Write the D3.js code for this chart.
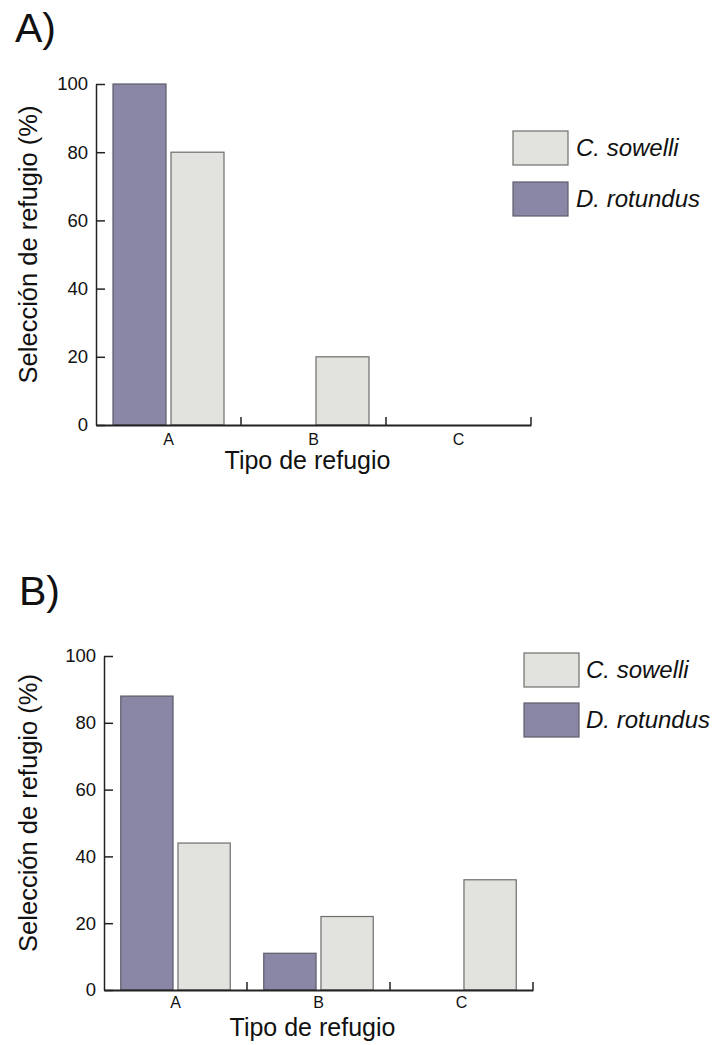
<!DOCTYPE html>
<html><head><meta charset="utf-8">
<script src="https://cdn.jsdelivr.net/npm/d3@7"></script>
<style>
body{margin:0;background:#fff;}
svg{display:block;font-family:"Liberation Sans",Arial,sans-serif;}
</style></head>
<body>
<svg id="chart" width="714" height="1045"></svg>
<script>
const categories = ["A", "B", "C"];
const seriesNames = ["D. rotundus", "C. sowelli"];
const legendOrder = ["C. sowelli", "D. rotundus"];
const yTicks = [0, 20, 40, 60, 80, 100];
const panelLabels = ["A)", "B)"];
const rotundusA = [100, 0, 0];
const sowelliA = [80, 20, 0];
const rotundusB = [88, 11, 0];
const sowelliB = [44, 22, 33];
const xTitle = "Tipo de refugio";
const yTitle = "Selección de refugio (%)";

const fills = {"D. rotundus": "#8987a5", "C. sowelli": "#e2e2de"};
const strokes = {"D. rotundus": "#5c5c6a", "C. sowelli": "#6e6e6e"};

const svg = d3.select("#chart");

const panels = [
  {label: panelLabels[0], lx: 15, ly: 42, data: {"D. rotundus": rotundusA, "C. sowelli": sowelliA},
   x0: 96, x1: 531, yTop: 84, yBot: 425, xlabBase: 445, xtitleBase: 469, ytitleX: 37,
   legX: 513, legTextX: 576, legY: [131, 182]},
  {label: panelLabels[1], lx: 19, ly: 605, data: {"D. rotundus": rotundusB, "C. sowelli": sowelliB},
   x0: 104, x1: 533, yTop: 656, yBot: 990, xlabBase: 1008, xtitleBase: 1036, ytitleX: 37,
   legX: 524, legTextX: 586, legY: [653, 703]}
];

panels.forEach(p => {
  const g = svg.append("g");
  g.append("text").attr("x", p.lx).attr("y", p.ly)
    .attr("font-size", 41).attr("fill", "#111").text(p.label);

  const x = d3.scaleBand().domain(categories).range([p.x0, p.x1]).paddingInner(0).paddingOuter(0);
  const xs = d3.scaleBand().domain(seriesNames).range([0, x.bandwidth()])
    .paddingInner(0.086).paddingOuter(0.293);
  const y = d3.scaleLinear().domain([0, 100]).range([p.yBot, p.yTop]);

  // bars
  seriesNames.forEach(s => {
    g.selectAll(null).data(categories.map((c, i) => ({c, v: p.data[s][i]})))
      .join("rect")
      .attr("x", d => x(d.c) + xs(s))
      .attr("y", d => y(d.v))
      .attr("width", xs.bandwidth())
      .attr("height", d => y(0) - y(d.v))
      .attr("fill", fills[s])
      .attr("stroke", strokes[s])
      .attr("stroke-width", 1.2);
  });

  // y axis
  const ya = g.append("g").attr("transform", `translate(${p.x0},0)`)
    .call(d3.axisLeft(y).tickValues(yTicks).tickSize(-9).tickSizeOuter(0).tickPadding(8));
  ya.selectAll("text").attr("font-size", 18.5).attr("fill", "#111")
    .attr("font-family", "'Liberation Sans', Arial, sans-serif");
  ya.selectAll("line,path").attr("stroke", "#222").attr("stroke-width", 1.5);

  // x axis
  const xa = g.append("g").attr("transform", `translate(0,${p.yBot})`)
    .call(d3.axisBottom(x).tickSize(0).tickSizeOuter(0).tickPadding(0));
  xa.select("path").attr("stroke", "#222").attr("stroke-width", 1.8);
  xa.selectAll(".tick text").attr("dy", null).attr("y", p.xlabBase - p.yBot)
    .attr("font-size", 16).attr("fill", "#111")
    .attr("font-family", "'Liberation Sans', Arial, sans-serif");
  // boundary ticks (pointing up)
  g.selectAll(null).data(categories).join("line")
    .attr("x1", d => x(d) + x.step()).attr("x2", d => x(d) + x.step())
    .attr("y1", p.yBot).attr("y2", p.yBot - 8)
    .attr("stroke", "#222").attr("stroke-width", 1.5);

  // titles
  g.append("text").attr("x", (p.x0 + p.x1) / 2 - 6).attr("y", p.xtitleBase)
    .attr("text-anchor", "middle").attr("font-size", 25).attr("fill", "#111").text(xTitle);
  const yc = (p.yTop + p.yBot) / 2 - 10;
  g.append("text").attr("transform", `translate(${p.ytitleX},${yc}) rotate(-90)`)
    .attr("text-anchor", "middle").attr("font-size", 25.5).attr("fill", "#111").text(yTitle);

  // legend
  legendOrder.forEach((s, i) => {
    g.append("rect").attr("x", p.legX).attr("y", p.legY[i]).attr("width", 55).attr("height", 34)
      .attr("fill", fills[s]).attr("stroke", strokes[s]).attr("stroke-width", 1.2);
    g.append("text").attr("x", p.legTextX).attr("y", p.legY[i] + 25)
      .attr("font-size", 24).attr("font-style", "italic").attr("fill", "#111").text(s);
  });
});
</script>
</body></html>
